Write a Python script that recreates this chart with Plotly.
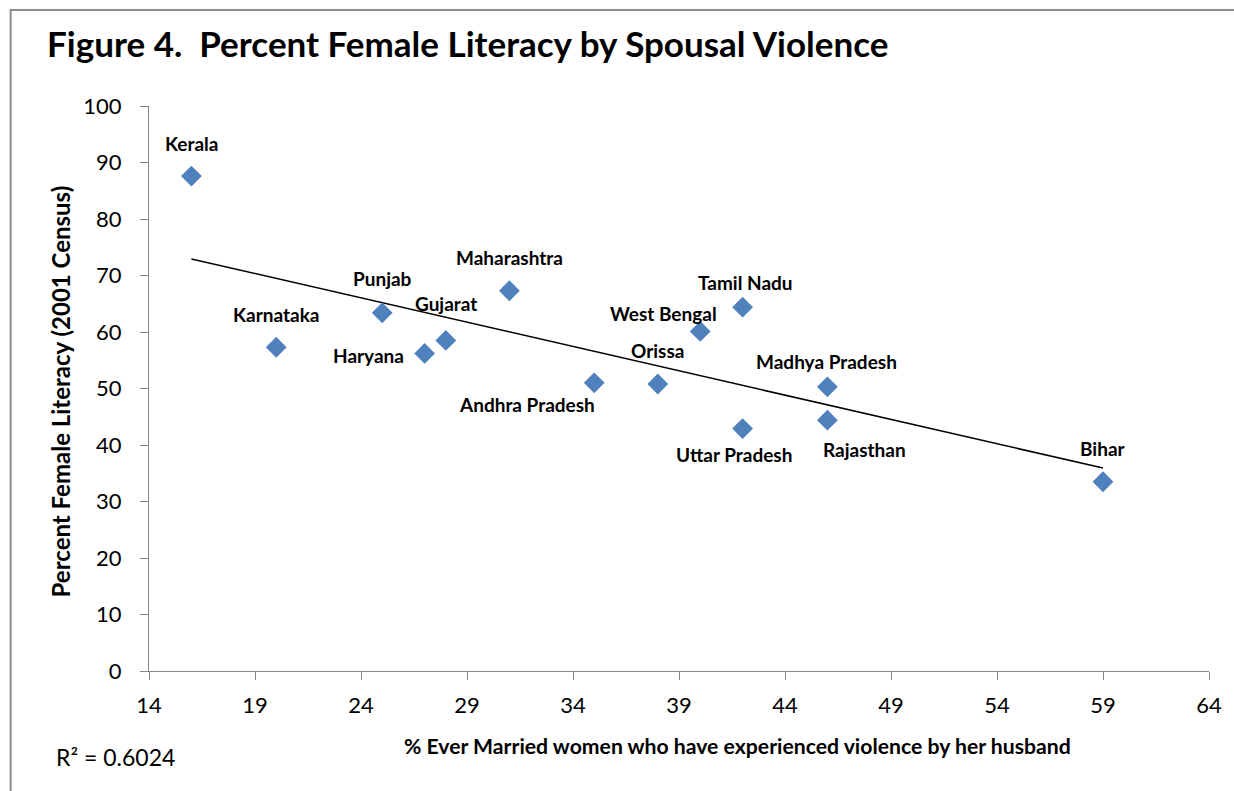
import numpy as np
import plotly.graph_objects as go

# data
states = ["Kerala", "Karnataka", "Punjab", "Haryana", "Gujarat", "Maharashtra",
          "Andhra Pradesh", "Orissa", "West Bengal", "Tamil Nadu",
          "Uttar Pradesh", "Madhya Pradesh", "Rajasthan", "Bihar"]
violence_pct = [16, 20, 25, 27, 28, 31, 35, 38, 40, 42, 42, 46, 46, 59]
female_literacy = [87.6, 57.3, 63.4, 56.2, 58.5, 67.3, 51.0, 50.8, 60.1, 64.4,
                   42.9, 50.3, 44.4, 33.5]
x_ticks = [14, 19, 24, 29, 34, 39, 44, 49, 54, 59, 64]
y_ticks = [0, 10, 20, 30, 40, 50, 60, 70, 80, 90, 100]
r2_text = "R\u00b2 = 0.6024"

# label offsets (pixels, label centre relative to marker)
label_offsets = [(0, -33), (0, -33), (0, -34), (-56, 2), (0, -37), (0, -33),
                 (-67, 22), (0, -33), (-37, -18), (3, -25), (-9, 26),
                 (-1, -25), (37, 29), (0, -33)]

FONT = "Lato"
W, H = 1234, 791
L, R, T, B = 149, 1214, 106, 671


def px_x(p):
    return (p - L) / (R - L)


def px_y(p):
    return (B - p) / (B - T)


# linear trendline
slope, intercept = np.polyfit(violence_pct, female_literacy, 1)
trend_x = [min(violence_pct), max(violence_pct)]
trend_y = [slope * v + intercept for v in trend_x]

fig = go.Figure()

fig.add_trace(go.Scatter(
    x=trend_x, y=trend_y, mode="lines",
    line=dict(color="black", width=1.5),
    hoverinfo="skip", showlegend=False
))

fig.add_trace(go.Scatter(
    x=violence_pct, y=female_literacy, mode="markers",
    marker=dict(symbol="diamond", size=16, color="#4F81BD",
                line=dict(width=0)),
    text=states, hoverinfo="text", showlegend=False
))

annotations = []
for name, xv, yv, (dx, dy) in zip(states, violence_pct, female_literacy, label_offsets):
    annotations.append(dict(
        x=xv, y=yv, xref="x", yref="y", text=name, showarrow=False,
        xanchor="center", yanchor="middle", xshift=dx, yshift=-dy,
        font=dict(family=FONT, size=19, color="black", weight="bold")
    ))

# axis titles and R² placed where the reference has them
annotations.append(dict(
    x=px_x(740), y=px_y(746), xref="paper", yref="paper",
    text="% Ever Married women who have experienced violence by her husband",
    showarrow=False, xanchor="center", yanchor="middle",
    font=dict(family=FONT, size=21.2, color="black", weight="bold")
))
annotations.append(dict(
    x=px_x(60), y=px_y(391), xref="paper", yref="paper",
    text="Percent Female Literacy (2001 Census)", textangle=-90,
    showarrow=False, xanchor="center", yanchor="middle",
    font=dict(family=FONT, size=24, color="black", weight="bold")
))
annotations.append(dict(
    x=px_x(54), y=px_y(757), xref="paper", yref="paper",
    text=r2_text, showarrow=False, xanchor="left", yanchor="middle",
    font=dict(family=FONT, size=23, color="black")
))

# chart-area border: only the left and top edges fall inside the picture
border = dict(color="#8C8C8C", width=2)
shapes = [
    dict(type="line", xref="paper", yref="paper", x0=px_x(10), x1=px_x(10),
         y0=px_y(9), y1=px_y(800), line=border, layer="above"),
    dict(type="line", xref="paper", yref="paper", x0=px_x(9), x1=px_x(1240),
         y0=px_y(10), y1=px_y(10), line=border, layer="above"),
]

fig.update_layout(
    width=W, height=H,
    margin=dict(l=L, r=W - R, t=T, b=H - B),
    paper_bgcolor="white", plot_bgcolor="white",
    title=dict(
        text="<b>Figure 4.  Percent Female Literacy by Spousal Violence</b>",
        xref="container", yref="container",
        x=47 / W, xanchor="left", y=1 - 45 / H, yanchor="middle",
        font=dict(family=FONT, size=35, color="black")
    ),
    annotations=annotations,
    shapes=shapes,
    showlegend=False
)

fig.update_xaxes(
    range=[14, 64], tickvals=x_ticks, showgrid=False, zeroline=False,
    showline=True, linecolor="#868686", linewidth=1.3,
    ticks="outside", ticklen=8, tickcolor="#868686", ticklabelstandoff=6,
    tickfont=dict(family=FONT, size=22, color="black")
)
fig.update_yaxes(
    range=[0, 100], tickvals=y_ticks, showgrid=False, zeroline=False,
    showline=True, linecolor="#868686", linewidth=1.3,
    ticks="outside", ticklen=8, tickcolor="#868686", ticklabelstandoff=14,
    tickfont=dict(family=FONT, size=22, color="black")
)

# drop the default page margin so the figure fills the window exactly
fig.write_html("out.html", config={"displayModeBar": False},
               post_script="document.body.style.margin='0px';"
                           "document.body.style.overflow='hidden';")
